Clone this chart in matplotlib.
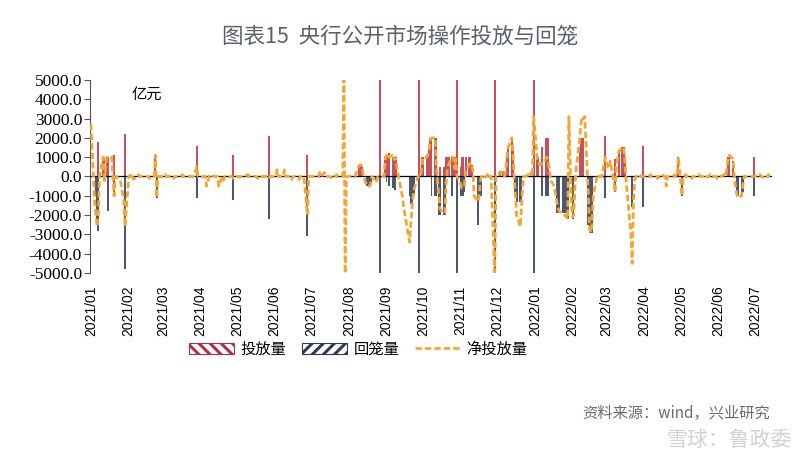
import numpy as np
import pandas as pd
import matplotlib
matplotlib.use('Agg')
import matplotlib.pyplot as plt
import matplotlib.dates as mdates
from matplotlib.ticker import FormatStrFormatter
from matplotlib.patches import Patch
from matplotlib.lines import Line2D

plt.rcParams['font.family'] = ['Noto Sans CJK SC', 'DejaVu Sans']
plt.rcParams['axes.unicode_minus'] = False
plt.rcParams['hatch.linewidth'] = 2.2

# ---------------- data (亿元) ----------------
inject_dates = [
    '2021-01-07', '2021-01-11', '2021-01-12', '2021-01-14', '2021-01-15', '2021-01-20', '2021-01-29',
    '2021-02-23', '2021-03-29', '2021-04-28', '2021-05-27', '2021-06-28',
    '2021-08-09', '2021-08-10', '2021-08-11', '2021-08-12', '2021-08-27', '2021-08-31',
    '2021-09-01', '2021-09-02', '2021-09-03', '2021-09-06', '2021-09-07', '2021-09-08', '2021-09-09',
    '2021-09-28', '2021-09-30', '2021-10-01', '2021-10-04', '2021-10-05', '2021-10-06', '2021-10-07',
    '2021-10-08', '2021-10-11', '2021-10-12', '2021-10-15', '2021-10-18', '2021-10-20', '2021-10-21',
    '2021-10-22', '2021-10-25', '2021-10-26', '2021-10-27', '2021-10-28', '2021-10-29',
    '2021-11-01', '2021-11-02', '2021-11-03', '2021-11-05', '2021-11-08', '2021-11-09', '2021-11-10',
    '2021-11-29', '2021-12-03', '2021-12-06', '2021-12-09', '2021-12-10', '2021-12-13', '2021-12-14',
    '2021-12-31', '2022-01-03', '2022-01-04', '2022-01-07', '2022-01-10', '2022-01-11', '2022-01-12',
    '2022-02-07', '2022-02-08', '2022-02-09', '2022-02-10', '2022-02-28', '2022-03-08', '2022-03-11',
    '2022-03-14', '2022-03-15', '2022-03-16', '2022-03-31', '2022-04-29', '2022-06-09', '2022-06-10',
    '2022-06-13', '2022-06-30']
inject_values = [
    1800, 1000, 1000, 1000, 1000, 1100, 2200,
    1100, 1600, 1100, 2100, 1100,
    500, 600, 600, 500, 6000, 1000,
    1000, 1100, 1200, 1000, 1000, 1000, 1000,
    5000, 1000, 1000, 1000, 1100, 1500, 2000,
    2000, 2000, 2000, 500, 500, 1000, 1000,
    1000, 1000, 800, 1000, 600, 10000,
    500, 1000, 1000, 1000, 1000, 1000, 600,
    9500, 300, 300, 1000, 1500, 2000, 1500,
    7000, 1000, 1000, 1500, 2000, 2000, 2000,
    1500, 2000, 2000, 2000, 2100, 900, 1300,
    1500, 1500, 1000, 1600, 1000, 1000, 1000,
    800, 1000]

withdraw_dates = [
    '2021-01-05', '2021-01-06', '2021-01-07', '2021-01-15', '2021-01-20', '2021-01-29',
    '2021-02-24', '2021-03-29', '2021-04-28', '2021-05-27', '2021-06-28',
    '2021-08-16', '2021-08-17', '2021-08-18', '2021-08-19', '2021-08-23', '2021-08-27',
    '2021-09-01', '2021-09-03', '2021-09-06', '2021-09-08', '2021-09-20', '2021-09-21',
    '2021-09-22', '2021-09-23', '2021-09-24', '2021-09-28', '2021-10-08', '2021-10-11',
    '2021-10-12', '2021-10-14', '2021-10-15', '2021-10-18', '2021-10-19', '2021-10-25',
    '2021-10-29', '2021-11-01', '2021-11-02', '2021-11-03', '2021-11-04', '2021-11-15',
    '2021-11-17', '2021-11-18', '2021-11-29', '2021-12-16', '2021-12-17', '2021-12-20',
    '2021-12-21', '2021-12-31', '2022-01-07', '2022-01-10', '2022-01-11', '2022-01-12',
    '2022-01-19', '2022-01-20', '2022-01-21', '2022-01-24', '2022-01-25', '2022-01-26',
    '2022-01-27', '2022-01-28', '2022-02-01', '2022-02-14', '2022-02-15', '2022-02-16',
    '2022-02-17', '2022-02-28', '2022-03-08', '2022-03-22', '2022-03-31', '2022-05-02',
    '2022-06-16', '2022-06-17', '2022-06-20', '2022-06-21', '2022-06-30']
withdraw_values = [
    -1000, -2500, -2800, -1800, -1000, -4800,
    -1100, -1100, -1200, -2200, -3100,
    -500, -500, -500, -400, -200, -6000,
    -300, -500, -600, -700, -1000, -1400,
    -1400, -1000, -900, -5000, -1000, -1000,
    -1000, -2000, -2000, -2000, -2000, -1000,
    -10000, -1000, -900, -1000, -800, -2500,
    -1000, -1000, -9500, -1000, -1300, -1300,
    -1300, -5000, -1000, -1000, -1000, -1000,
    -1900, -1900, -1900, -1900, -1900, -1900,
    -1900, -2200, -2200, -2500, -2900, -2900,
    -2900, -1100, -800, -1600, -1600, -1000,
    -900, -1000, -1000, -800, -1000]

net_dates = [
    '2021-01-01', '2021-01-04', '2021-01-05', '2021-01-06', '2021-01-07', '2021-01-11', '2021-01-12',
    '2021-01-13', '2021-01-14', '2021-01-15', '2021-01-18', '2021-01-20', '2021-01-25', '2021-01-26',
    '2021-01-27', '2021-01-28', '2021-01-29', '2021-02-03', '2021-02-05', '2021-02-09', '2021-02-18',
    '2021-02-23', '2021-02-24', '2021-03-03', '2021-03-10', '2021-03-17', '2021-03-29', '2021-04-06',
    '2021-04-07', '2021-04-09', '2021-04-16', '2021-04-20', '2021-04-28', '2021-05-10', '2021-05-18',
    '2021-05-27', '2021-06-03', '2021-06-09', '2021-06-15', '2021-06-21', '2021-06-28', '2021-07-08',
    '2021-07-12', '2021-07-19', '2021-07-22', '2021-07-28', '2021-07-29', '2021-08-09', '2021-08-10',
    '2021-08-11', '2021-08-12', '2021-08-16', '2021-08-17', '2021-08-18', '2021-08-19', '2021-08-23',
    '2021-08-24', '2021-08-31', '2021-09-01', '2021-09-02', '2021-09-03', '2021-09-06', '2021-09-07',
    '2021-09-08', '2021-09-09', '2021-09-10', '2021-09-13', '2021-09-14', '2021-09-15', '2021-09-16',
    '2021-09-17', '2021-09-20', '2021-09-21', '2021-09-22', '2021-09-23', '2021-09-24', '2021-09-30',
    '2021-10-01', '2021-10-04', '2021-10-05', '2021-10-06', '2021-10-07', '2021-10-08', '2021-10-11',
    '2021-10-12', '2021-10-13', '2021-10-14', '2021-10-15', '2021-10-18', '2021-10-19', '2021-10-20',
    '2021-10-21', '2021-10-22', '2021-10-25', '2021-10-26', '2021-10-27', '2021-10-28', '2021-11-01',
    '2021-11-02', '2021-11-03', '2021-11-04', '2021-11-05', '2021-11-08', '2021-11-09', '2021-11-10',
    '2021-11-11', '2021-11-12', '2021-11-15', '2021-11-16', '2021-11-17', '2021-11-19', '2021-11-23',
    '2021-11-24', '2021-11-29', '2021-12-03', '2021-12-06', '2021-12-08', '2021-12-09', '2021-12-10',
    '2021-12-13', '2021-12-14', '2021-12-16', '2021-12-17', '2021-12-20', '2021-12-21', '2021-12-22',
    '2021-12-27', '2021-12-29', '2021-12-31', '2022-01-03', '2022-01-04', '2022-01-05', '2022-01-06',
    '2022-01-07', '2022-01-10', '2022-01-11', '2022-01-12', '2022-01-13', '2022-01-14', '2022-01-17',
    '2022-01-18', '2022-01-19', '2022-01-20', '2022-01-21', '2022-01-24', '2022-01-25', '2022-01-26',
    '2022-01-27', '2022-01-28', '2022-01-29', '2022-01-31', '2022-02-01', '2022-02-02', '2022-02-03',
    '2022-02-04', '2022-02-07', '2022-02-08', '2022-02-09', '2022-02-10', '2022-02-11', '2022-02-14',
    '2022-02-15', '2022-02-16', '2022-02-17', '2022-02-18', '2022-02-22', '2022-02-28', '2022-03-01',
    '2022-03-02', '2022-03-03', '2022-03-04', '2022-03-07', '2022-03-08', '2022-03-09', '2022-03-10',
    '2022-03-11', '2022-03-14', '2022-03-15', '2022-03-16', '2022-03-17', '2022-03-18', '2022-03-21',
    '2022-03-22', '2022-03-23', '2022-03-24', '2022-03-28', '2022-04-06', '2022-04-12', '2022-04-15',
    '2022-04-19', '2022-04-26', '2022-04-29', '2022-05-02', '2022-05-05', '2022-05-10', '2022-05-16',
    '2022-05-20', '2022-05-25', '2022-05-31', '2022-06-06', '2022-06-08', '2022-06-09', '2022-06-10',
    '2022-06-13', '2022-06-15', '2022-06-16', '2022-06-17', '2022-06-20', '2022-06-21', '2022-07-05',
    '2022-07-08', '2022-07-12']
net_values = [
    2700, -1300, -2000, -2600, -2000, 1000, -300,
    500, 1000, 1000, 1000, -1000, -200, -500,
    -900, -1300, -2600, 150, -150, 100, -100,
    1100, -1100, 100, -100, 100, 500, -500,
    -300, 100, -500, -200, -100, 100, -100,
    -100, 350, 340, -150, -150, -2000, 200,
    200, -100, 100, 5500, -5500, 500, 600,
    600, 500, -500, -500, -500, -400, -300,
    -200, 1000, 1100, 1200, 1000, 1100, 900,
    1000, 800, 300, -700, -1000, -1500, -1900,
    -2300, -3400, -2500, -1600, -1000, -600, 500,
    1000, 1000, 1100, 1400, 1900, 2000, 2000,
    500, -300, -1000, -1700, -1900, -1900, -300,
    300, 600, 1000, 1000, 400, 900, -400,
    -600, -600, -500, 300, 600, 700, 600,
    300, -1000, -1300, -1100, -300, -100, 100,
    -100, -5200, 200, 200, 300, 1000, 1500,
    2000, 1200, -1000, -2000, -2600, -1500, -500,
    100, 200, 3100, 900, 800, 600, 600,
    700, 900, 1000, 800, 300, -200, -500,
    -900, -1300, -1600, -1800, -1900, -2000, -2000,
    -2100, -2200, 3100, -1500, -2100, -2000, -500,
    500, 2000, 2800, 3100, 3000, 3100, -1000,
    -2700, -2900, -2500, -1000, 100, 1000, 700,
    500, 400, 800, -300, -800, 500, 900,
    1300, 1500, 1500, 800, -200, -900, -3000,
    -4500, -1500, -200, 100, 100, -100, 100,
    -500, 100, 1000, -1000, 100, -100, 100,
    -100, 100, -100, 100, 500, 1000, 1100,
    900, -500, -900, -1100, -1000, -500, 100,
    -100, 100]

series_start, series_end = '2021-01-01', '2022-07-14'
y_ticks = list(range(-5000, 5001, 1000))
month_ticks = pd.date_range('2021-01-01', '2022-07-01', freq='MS')
legend_labels = ['投放量', '回笼量', '净投放量']

# ---------------- build series ----------------
inj_idx = pd.to_datetime(inject_dates)
wd_idx = pd.to_datetime(withdraw_dates)
net_idx = pd.to_datetime(net_dates)
days = pd.bdate_range(series_start, series_end).union(net_idx)
net = pd.Series(0.0, index=days)
net.loc[net_idx] = net_values

RED = '#C7505F'
BLUE = '#4A5872'
YELLOW = '#F2A735'
DASH = (0, (2.3, 1.1))

fig = plt.figure(figsize=(8, 4.59), dpi=100)
ax = fig.add_axes([0.113, 0.405, 0.852, 0.421])

ax.bar(inj_idx, inject_values, width=1.6, color=RED, linewidth=0, zorder=2)
ax.bar(wd_idx, withdraw_values, width=1.6, color=BLUE, linewidth=0, zorder=2)
ax.axhline(0, color='black', lw=0.9, zorder=3)
ax.plot(net.index, net.values, color=YELLOW, lw=2.0, ls=DASH, zorder=4)

ax.set_ylim(-5000, 5000)
ax.set_xlim(pd.Timestamp('2020-12-31 12:00'), pd.Timestamp('2022-07-15'))
ax.set_yticks(y_ticks)
ax.yaxis.set_major_formatter(FormatStrFormatter('%.1f'))
ax.set_xticks(month_ticks)
ax.set_xticklabels([d.strftime('%Y/%m') for d in month_ticks], rotation=90,
                   fontfamily='Liberation Sans', fontsize=10)
for lab in ax.get_yticklabels():
    lab.set_fontfamily('Liberation Serif')
    lab.set_fontsize(12.5)
ax.tick_params(axis='x', length=0, pad=9)
ax.tick_params(axis='y', length=4, width=0.8, color='#555555', pad=2)
for s in ['top', 'right', 'bottom']:
    ax.spines[s].set_visible(False)
ax.spines['left'].set_color('#555555')
ax.spines['left'].set_linewidth(0.8)

fig.text(0.5, 1 - 37 / 459, '图表15  央行公开市场操作投放与回笼', ha='center', va='center',
         fontsize=15.5, color='#5b6168')
fig.text(147 / 800, 1 - 94 / 459, '亿元', ha='center', va='center', fontsize=11, color='black')

handles = [Patch(facecolor='white', edgecolor='#B0304A', hatch='\\\\\\', linewidth=0.8),
           Patch(facecolor='white', edgecolor='#2E3A55', hatch='///', linewidth=0.8),
           Line2D([0], [0], color=YELLOW, lw=2.0, ls=DASH)]
fig.legend(handles, legend_labels, loc='center', bbox_to_anchor=(358 / 800, 1 - 349 / 459),
           ncol=3, frameon=False, handlelength=3.0, handleheight=0.75, columnspacing=1.0,
           handletextpad=0.4, fontsize=11)

fig.text(770 / 800, 1 - 413 / 459, '资料来源：wind，兴业研究', ha='right', va='center',
         fontsize=11, color='#6b6b6b')
fig.text(792 / 800, 1 - 440 / 459, '雪球：鲁政委', ha='right', va='center',
         fontsize=15, color='#d2d2d2')

fig.savefig('out.png', dpi=100)
